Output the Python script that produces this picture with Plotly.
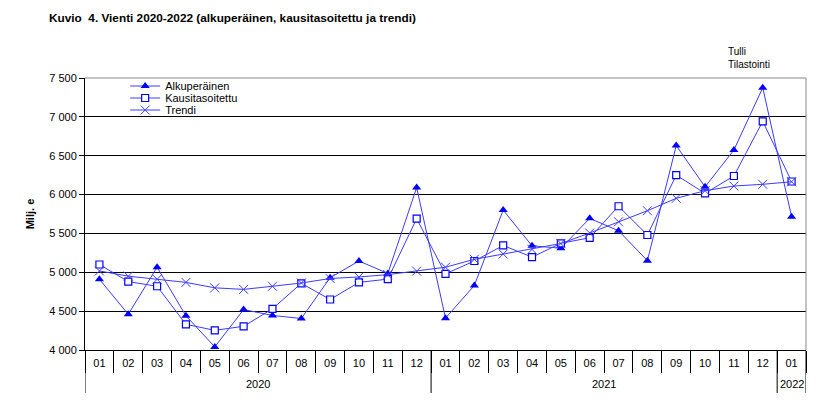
import plotly.graph_objects as go

years = ["2020"] * 12 + ["2021"] * 12 + ["2022"]
months = ["01", "02", "03", "04", "05", "06", "07", "08", "09", "10", "11", "12"] * 2 + ["01"]

alkuperainen = [4910, 4460, 5065, 4440, 4040, 4520, 4445, 4405, 4930, 5145, 4985, 6090,
                4410, 4830, 5800, 5340, 5310, 5694, 5535, 5150, 6630, 6100, 6573, 7375, 5715]
kausitasoitettu = [5100, 4880, 4820, 4330, 4253, 4305, 4530, 4858, 4650, 4870, 4912, 5690,
                   4980, 5145, 5345, 5195, 5373, 5444, 5850, 5480, 6250, 6016, 6239, 6943, 6168]
trendi = [5017, 4950, 4910, 4870, 4800, 4780, 4820, 4862, 4920, 4940, 4970, 5015,
          5065, 5167, 5235, 5295, 5370, 5505, 5650, 5792, 5952, 6050, 6110, 6132, 6165]

font = "Liberation Sans, Arial, sans-serif"
line_col = "rgb(60,60,255)"
mark_col = "#0000ff"
idx = list(range(len(months)))

# page body has an 8px margin, so the figure is sized to fill the rest of the window
W, H = 824, 408

fig = go.Figure()
fig.add_trace(go.Scatter(
    x=idx, y=alkuperainen, name="Alkuperäinen", mode="lines+markers", legend="legend",
    line=dict(color=line_col, width=1),
    marker=dict(symbol="triangle-up", size=8, color=mark_col)))
fig.add_trace(go.Scatter(
    x=idx, y=kausitasoitettu, name="Kausitasoitettu", mode="lines+markers", legend="legend2",
    line=dict(color=line_col, width=1),
    marker=dict(symbol="square", size=7, color="white", line=dict(color=mark_col, width=1.2))))
fig.add_trace(go.Scatter(
    x=idx, y=trendi, name="Trendi", mode="lines+markers", legend="legend3",
    line=dict(color=line_col, width=1),
    marker=dict(symbol="x-thin-open", size=9, line=dict(color=line_col, width=1))))

# one legend per series so the entries sit as tightly as in the original
leg = dict(x=0.0557, xanchor="left", yanchor="middle", bgcolor="rgba(0,0,0,0)",
           font=dict(size=11), itemwidth=30)
fig.update_layout(
    width=W, height=H,
    margin=dict(l=77, r=26, t=70, b=66, autoexpand=False),
    plot_bgcolor="white", paper_bgcolor="white",
    font=dict(family=font, size=11, color="black"),
    separators=", ",
    title=dict(text="<b>Kuvio  4. Vienti 2020-2022 (alkuperäinen, kausitasoitettu ja trendi)</b>",
               x=41 / W, xanchor="left", y=1 - 10 / H, yanchor="middle",
               font=dict(size=11.8, family=font)),
    legend=dict(leg, y=(350 - 86) / 272),
    legend2=dict(leg, y=(350 - 98) / 272),
    legend3=dict(leg, y=(350 - 110) / 272),
    showlegend=True,
)
fig.update_yaxes(
    range=[4000, 7500], dtick=500, tickformat=",d", automargin=False,
    showgrid=True, gridcolor="black", gridwidth=1,
    showline=True, linecolor="black",
    ticks="outside", ticklen=5, tickcolor="black",
    title=dict(text="<b>Milj. e</b>", standoff=12, font=dict(size=11)),
    zeroline=False,
)
fig.update_xaxes(
    range=[-0.5, len(months) - 0.5], automargin=False,
    tickmode="array", tickvals=idx, ticktext=months, ticks="",
    ticklabelstandoff=3,
    minor=dict(tick0=-0.5, dtick=1, ticks="outside", ticklen=22, tickcolor="black", showgrid=False),
    showline=True, linecolor="black", showgrid=False, zeroline=False,
)

# year groups: label under the months and a longer divider at each boundary
bounds = [i for i in range(len(years)) if i == 0 or years[i] != years[i - 1]] + [len(years)]
for a, b in zip(bounds[:-1], bounds[1:]):
    fig.add_annotation(text=years[a], xref="x", yref="paper", x=(a + b - 1) / 2, y=-0.125,
                       showarrow=False, yanchor="middle", font=dict(size=11))
for bnd in bounds:
    fig.add_shape(type="line", xref="x", yref="paper", x0=bnd - 0.5, x1=bnd - 0.5,
                  y0=0, y1=-0.158, line=dict(color="black", width=1))

# gray frame on top and right like the original
fig.add_shape(type="line", xref="paper", yref="paper", x0=0, x1=1, y0=1, y1=1,
              line=dict(color="#888888", width=1))
fig.add_shape(type="line", xref="paper", yref="paper", x0=1, x1=1, y0=0, y1=1,
              line=dict(color="#888888", width=1))
fig.add_annotation(text="Tulli<br>Tilastointi", xref="paper", yref="paper",
                   x=0.889, y=1.072, xanchor="left", yanchor="middle", align="left",
                   showarrow=False, font=dict(size=10, family=font))

fig.write_html("out.html")
